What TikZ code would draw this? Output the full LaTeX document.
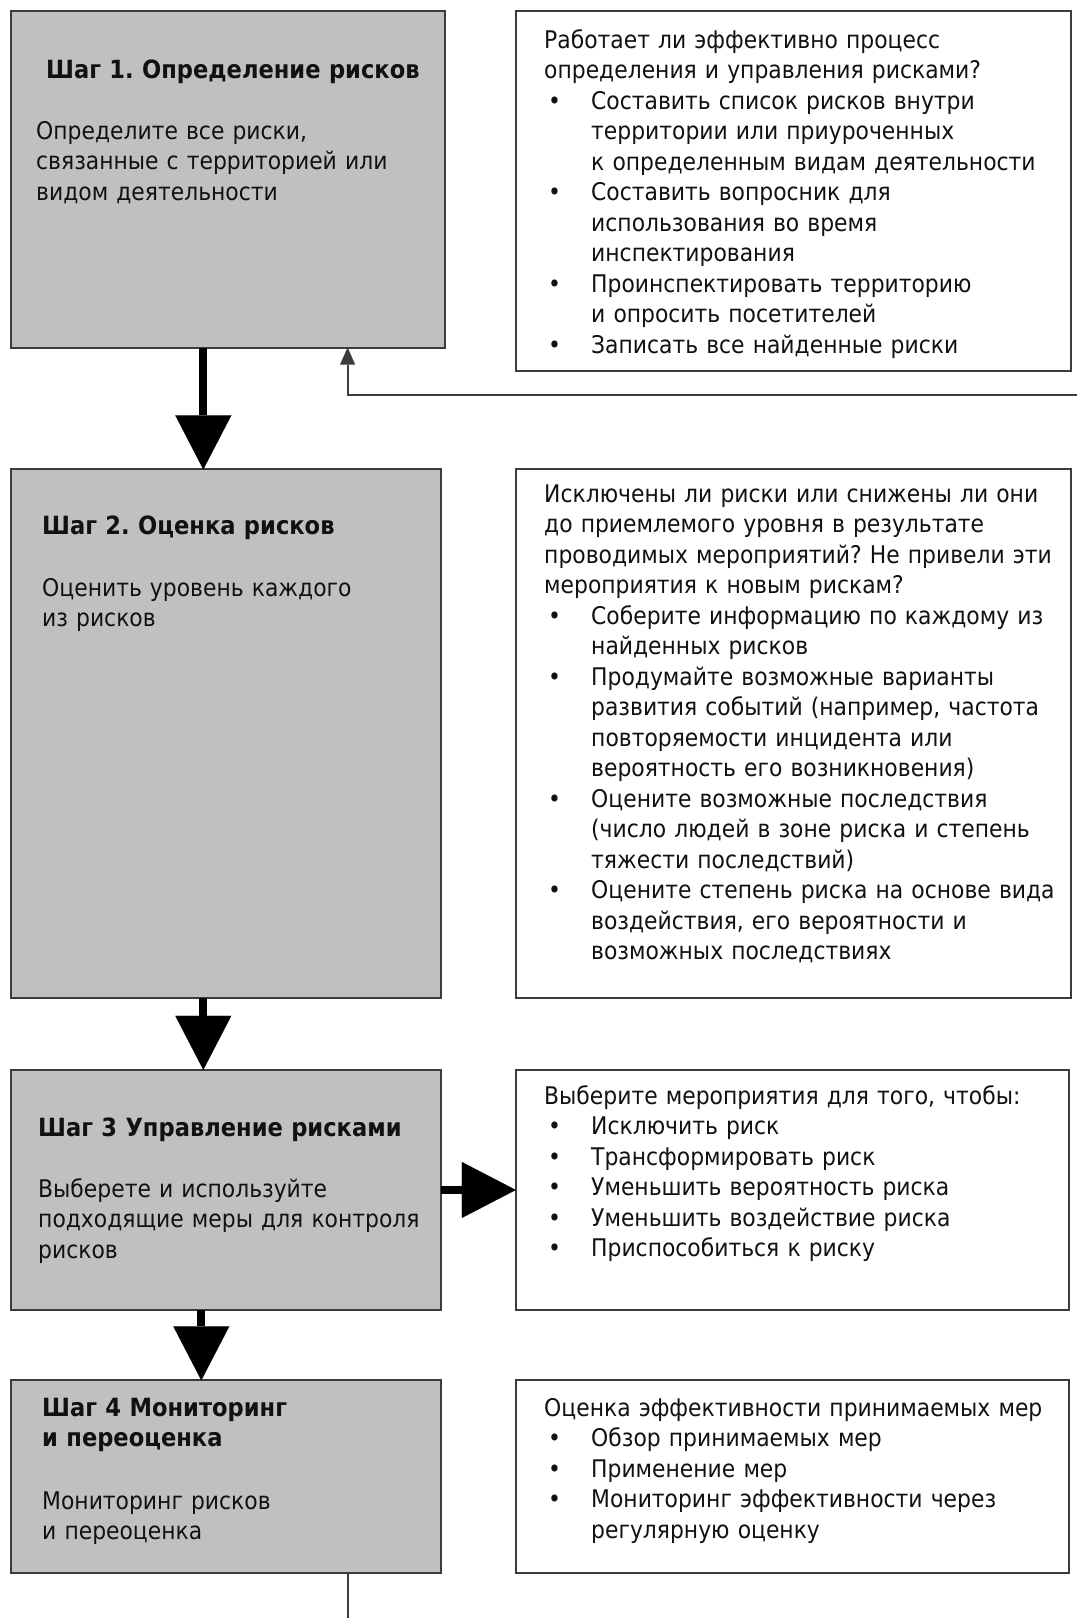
\documentclass[tikz,border=0pt]{standalone}
\usepackage{fontspec}
\setmainfont{DejaVu Sans}[FakeStretch=0.9]
\usetikzlibrary{arrows.meta}
\definecolor{boxgrey}{HTML}{C0C0C0}
\definecolor{edge}{HTML}{3C3C3C}
\definecolor{ink}{HTML}{111111}
\newcommand\bitem[1]{\makebox[47pt][l]{\hspace{4pt}\textbullet}#1}
\newcommand\bcont[1]{\hspace*{47pt}#1}
\frenchspacing
\begin{document}
\begin{tikzpicture}[x=1pt,y=-1pt,
 greybox/.style={draw=edge, line width=2pt, fill=boxgrey, anchor=north west, inner sep=0pt, outer sep=0pt},
 whitebox/.style={draw=edge, line width=2pt, fill=white, anchor=north west, inner sep=0pt, outer sep=0pt},
 txt/.style={anchor=base west, inner sep=0pt, align=left, text width=530pt, text=ink, font=\fontsize{24.3}{30.5}\selectfont},
 ttl/.style={txt, font=\fontsize{25.1}{30.5}\selectfont\bfseries},
 bigarrow/.style={draw=black, line width=8pt, -{Triangle[width=56pt,length=54pt,line width=0.01pt]}},
 thinarrow/.style={draw=edge, line width=2pt, -{Triangle[width=15pt,length=17pt,line width=0.01pt]}},
 thinline/.style={draw=edge, line width=2pt}
]
\fill[white] (0,0) rectangle (1077,1618);
\useasboundingbox (0,0) rectangle (1077,1618);

% boxes
\node[greybox, minimum width=433.3pt, minimum height=336.3pt] (b1) at (11.3,11.3) {};
\node[whitebox, minimum width=555pt, minimum height=360pt] (r1) at (515.8,11.3) {};
\node[greybox, minimum width=429.2pt, minimum height=528.2pt] (b2) at (11.3,469.4) {};
\node[whitebox, minimum width=555pt, minimum height=528.2pt] (r2) at (515.8,469.4) {};
\node[greybox, minimum width=429.2pt, minimum height=240.3pt] (b3) at (11.3,1069.8) {};
\node[whitebox, minimum width=553pt, minimum height=240.3pt] (r3) at (515.8,1069.8) {};
\node[greybox, minimum width=429.2pt, minimum height=192.9pt] (b4) at (11.3,1380.3) {};
\node[whitebox, minimum width=553pt, minimum height=192.9pt] (r4) at (515.8,1380.3) {};

% texts in grey boxes
\node[ttl] (t1) at (46,78) {Шаг 1. Определение рисков};
\node[txt] (d1) at (36,139) {Определите все риски,\\связанные с территорией или\\видом деятельности};
\node[ttl] (t2) at (42,534) {Шаг 2. Оценка рисков};
\node[txt] (d2) at (42,596) {Оценить уровень каждого\\из рисков};
\node[ttl] (t3) at (38,1136) {Шаг 3 Управление рисками};
\node[txt] (d3) at (38,1197) {Выберете и используйте\\подходящие меры для контроля\\рисков};
\node[ttl] (t4) at (42,1416) {Шаг 4 Мониторинг\\и переоценка};
\node[txt] (d4) at (42,1509) {Мониторинг рисков\\и переоценка};

% texts in white boxes
\node[txt] (q1) at (544,48) {Работает ли эффективно процесс\\
определения и управления рисками?\\
\bitem{Составить список рисков внутри}\\
\bcont{территории или приуроченных}\\
\bcont{к определенным видам деятельности}\\
\bitem{Составить вопросник для}\\
\bcont{использования во время}\\
\bcont{инспектирования}\\
\bitem{Проинспектировать территорию}\\
\bcont{и опросить посетителей}\\
\bitem{Записать все найденные риски}};

\node[txt] (q2) at (544,502) {Исключены ли риски или снижены ли они\\
до приемлемого уровня в результате\\
проводимых мероприятий? Не привели эти\\
мероприятия к новым рискам?\\
\bitem{Соберите информацию по каждому из}\\
\bcont{найденных рисков}\\
\bitem{Продумайте возможные варианты}\\
\bcont{развития событий (например, частота}\\
\bcont{повторяемости инцидента или}\\
\bcont{вероятность его возникновения)}\\
\bitem{Оцените возможные последствия}\\
\bcont{(число людей в зоне риска и степень}\\
\bcont{тяжести последствий)}\\
\bitem{Оцените степень риска на основе вида}\\
\bcont{воздействия, его вероятности и}\\
\bcont{возможных последствиях}};

\node[txt] (q3) at (544,1104) {Выберите мероприятия для того, чтобы:\\
\bitem{Исключить риск}\\
\bitem{Трансформировать риск}\\
\bitem{Уменьшить вероятность риска}\\
\bitem{Уменьшить воздействие риска}\\
\bitem{Приспособиться к риску}};

\node[txt] (q4) at (544,1416) {Оценка эффективности принимаемых мер\\
\bitem{Обзор принимаемых мер}\\
\bitem{Применение мер}\\
\bitem{Мониторинг эффективности через}\\
\bcont{регулярную оценку}};

% big arrows
\draw[bigarrow] ([xshift=192pt]b1.south west) -- ([xshift=192pt]b2.north west);
\draw[bigarrow] ([xshift=192pt]b2.south west) -- ([xshift=192pt]b3.north west);
\draw[bigarrow] ([xshift=190pt]b3.south west) -- ([xshift=190pt]b4.north west);
\draw[bigarrow] (b3.east) -- (r3.west);

% feedback loop
\coordinate (fbR) at (1077,395);
\coordinate (fbT) at ([xshift=336.3pt]b1.south west);
\coordinate (fbS) at ([xshift=336.3pt]b4.south west);
\coordinate (fbB) at (347.6,1618);
\draw[thinarrow] (fbR) -| (fbT);
\draw[thinline] (fbS) -- (fbB);
\end{tikzpicture}
\end{document}
